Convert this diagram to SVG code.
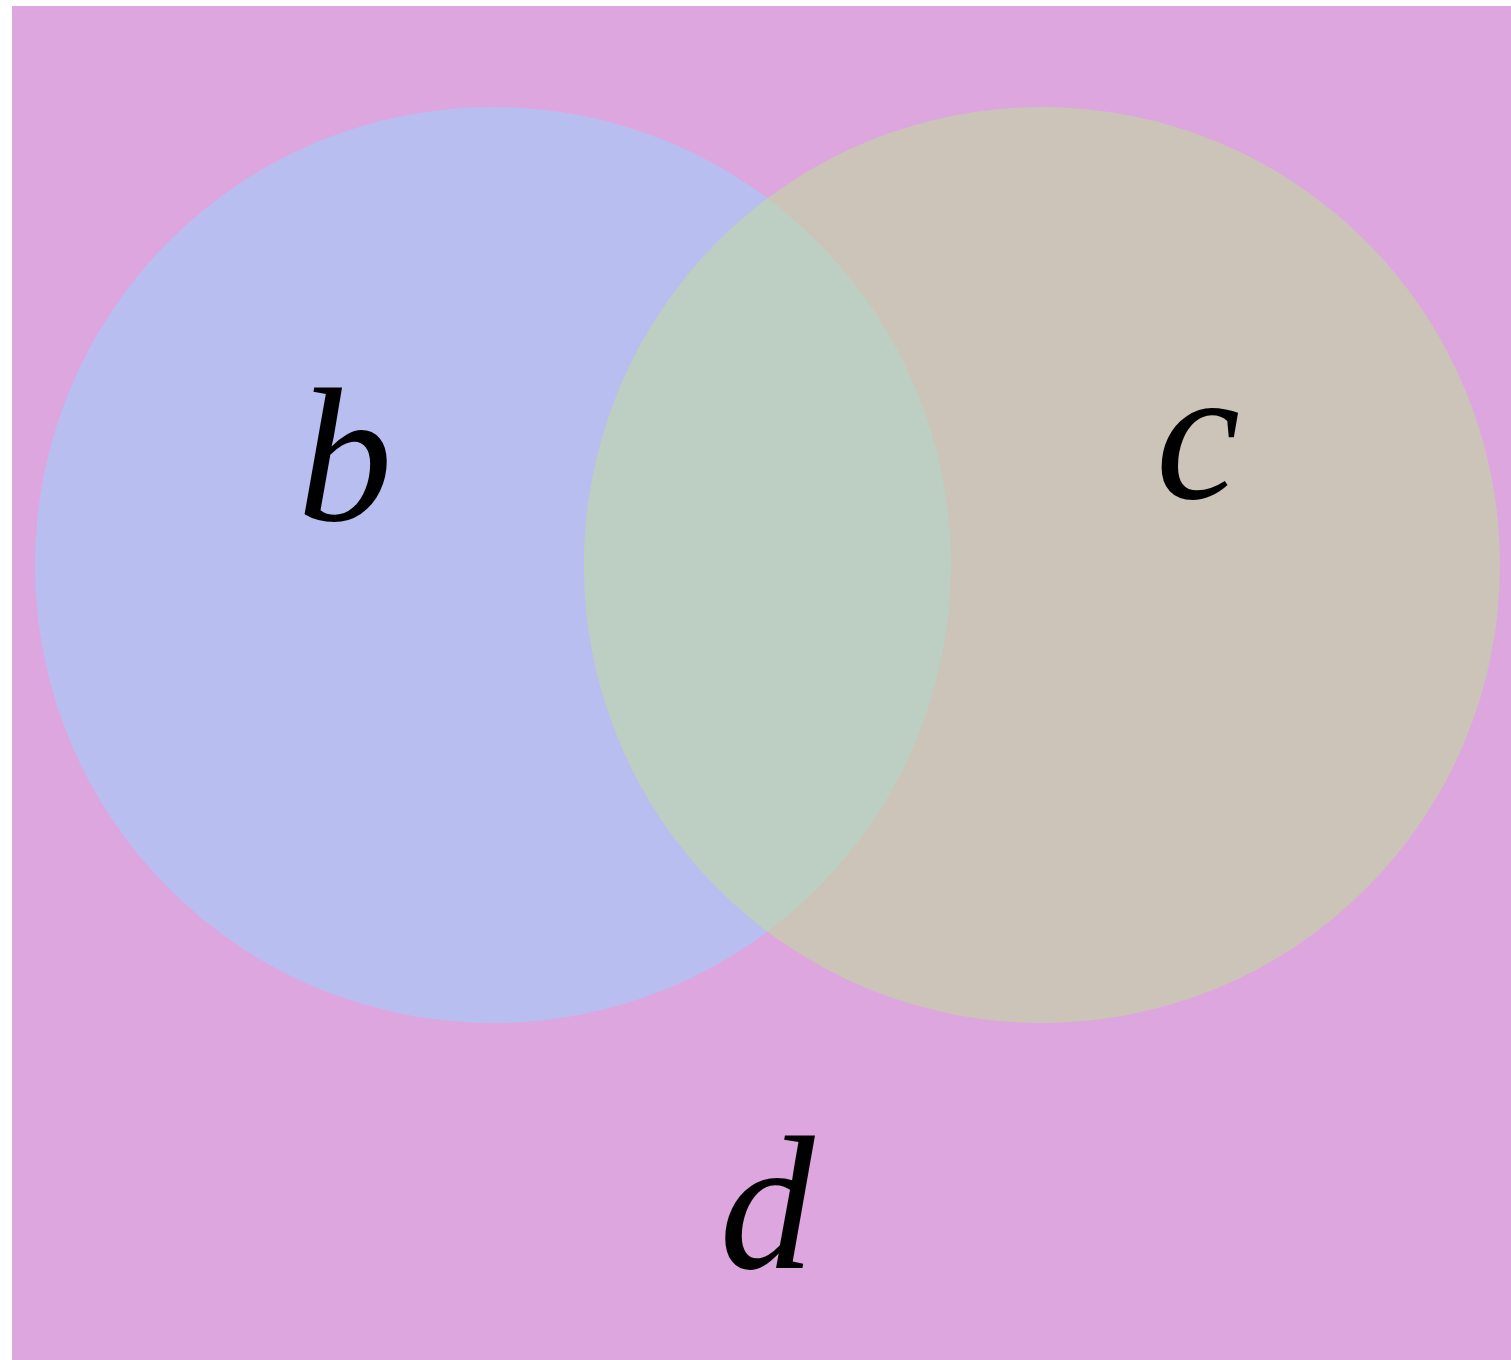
<svg xmlns="http://www.w3.org/2000/svg" width="1511" height="1360" viewBox="0 0 1511 1360">
<style>
.lbl{font-family:"Liberation Serif","Times New Roman",serif;font-style:italic;font-size:190px;fill:#000;text-anchor:middle}
</style>
<rect x="0" y="0" width="1511" height="1360" fill="#ffffff"/>
<g id="universe"><rect x="12" y="6" width="1499" height="1354" fill="#DDA6DF"/></g>
<g id="set-b"><circle cx="493" cy="565" r="458" fill="#B9BEF1"/></g>
<g id="set-c"><circle cx="1042" cy="565" r="458" fill="#CCC4B8"/></g>
<g id="overlap">
<clipPath id="cb"><circle cx="493" cy="565" r="458"/></clipPath>
<circle cx="1042" cy="565" r="458" fill="#BDCFC2" clip-path="url(#cb)"/>
</g>
<g id="labels">
<text class="lbl" x="345" y="520">b</text>
<text class="lbl" x="1198" y="498">c</text>
<text class="lbl" x="767" y="1268">d</text>
</g>
<g id="connectors"/>
</svg>
